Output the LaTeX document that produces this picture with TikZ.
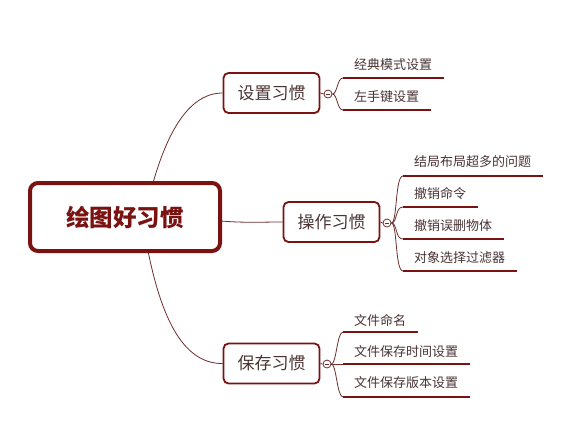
\documentclass[tikz,border=0pt]{standalone}
\usepackage{fontspec}
\setmainfont{Noto Sans CJK SC}
\definecolor{mred}{HTML}{7A1212}
\definecolor{mline}{HTML}{6E2E2E}
\definecolor{mtext}{HTML}{4A3434}
\begin{document}
\begin{tikzpicture}[x=1pt,y=-1pt,
  rootbox/.style={draw=mred,line width=4pt,rounded corners=8pt,fill=white,minimum width=190pt,minimum height=68pt,inner sep=0pt,text=mred,font=\fontsize{23.5}{28}\selectfont\bfseries},
  subbox/.style={draw=mred,line width=1.8pt,rounded corners=5pt,fill=white,minimum width=96pt,minimum height=40pt,inner sep=0pt,text=mtext,font=\fontsize{17}{20}\selectfont},
  leaf/.style={anchor=west,inner sep=0pt,text=mtext,font=\fontsize{13}{16}\selectfont},
  knob/.style={circle,draw=mline,line width=0.8pt,fill=white,minimum size=8pt,inner sep=0pt},
  conn/.style={draw=mline,line width=0.8pt},
  uline/.style={draw=mred,line width=2.6pt}]
\useasboundingbox (0,0) rectangle (585,437);
\fill[white] (0,0) rectangle (585,437);

% connectors from root
\coordinate (rt) at (153,183);
\coordinate (rb) at (148,251);
\node[subbox] (s1) at (271.5,93) {设置习惯};
\node[subbox] (s2) at (331.5,222) {操作习惯};
\node[subbox] (s3) at (271.5,363.5) {保存习惯};
\draw[conn] (rt) .. controls (168,130) and (190,93) .. (s1.west);
\draw[conn] (rb) .. controls (160,310) and (180,364) .. (s3.west);
\draw[conn] (221,221) .. controls (245,223) and (260,222) .. (s2.west);
\node[rootbox] (root) at (125,217) {绘图好习惯};

% knobs
\node[knob] (k1) at (328,94) {};
\node[knob] (k2) at (387,223) {};
\node[knob] (k3) at (327,364) {};
\foreach \k/\s in {k1/s1,k2/s2,k3/s3}{
  \draw[conn] (\s.east) -- (\k.west);
  \draw[mline,line width=0.7pt] ([xshift=-2.3pt]\k.center) -- ([xshift=2.3pt]\k.center);
}

% group 1
\node[leaf] (a1) at (354,65) {经典模式设置};
\node[leaf] (a2) at (354,97) {左手键设置};
\coordinate (a1s) at (343,78); \coordinate (a1e) at (444,78);
\coordinate (a2s) at (343,110); \coordinate (a2e) at (431,110);
\foreach \s/\e in {a1s/a1e,a2s/a2e}{
  \draw[conn] (k1.east) .. controls +(5,0) and +(-6,0) .. (\s);
  \draw[uline] (\s) -- (\e);
}

% group 2
\node[leaf] (b1) at (414,162) {结局布局超多的问题};
\node[leaf] (b2) at (414,194) {撤销命令};
\node[leaf] (b3) at (414,226) {撤销误删物体};
\node[leaf] (b4) at (414,258) {对象选择过滤器};
\coordinate (b1s) at (403,176); \coordinate (b1e) at (543,176);
\coordinate (b2s) at (403,207); \coordinate (b2e) at (478,207);
\coordinate (b3s) at (403,239); \coordinate (b3e) at (504,239);
\coordinate (b4s) at (403,271); \coordinate (b4e) at (517,271);
\foreach \s/\e in {b1s/b1e,b2s/b2e,b3s/b3e,b4s/b4e}{
  \draw[conn] (k2.east) .. controls +(6,0) and +(-8,0) .. (\s);
  \draw[uline] (\s) -- (\e);
}

% group 3
\node[leaf] (c1) at (354,320) {文件命名};
\node[leaf] (c2) at (354,352) {文件保存时间设置};
\node[leaf] (c3) at (354,383) {文件保存版本设置};
\coordinate (c1s) at (343,332); \coordinate (c1e) at (418,332);
\coordinate (c2s) at (343,364); \coordinate (c2e) at (470,364);
\coordinate (c3s) at (343,397); \coordinate (c3e) at (470,397);
\foreach \s/\e in {c1s/c1e,c2s/c2e,c3s/c3e}{
  \draw[conn] (k3.east) .. controls +(5,0) and +(-6,0) .. (\s);
  \draw[uline] (\s) -- (\e);
}
\end{tikzpicture}
\end{document}
